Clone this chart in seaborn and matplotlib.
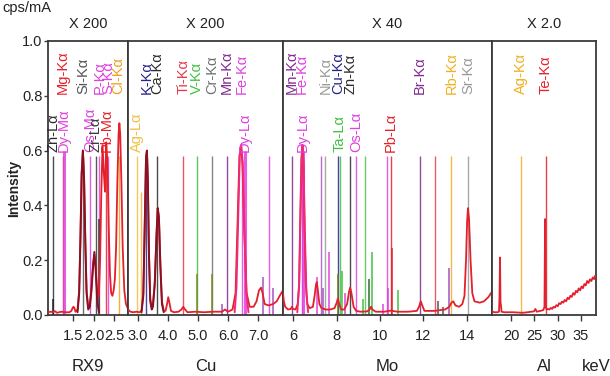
import matplotlib
matplotlib.use("Agg")
import matplotlib.pyplot as plt
from matplotlib import font_manager
import seaborn as sns

# ---- spectrum (energy in keV, intensity in cps/mA) ----
rx9_kev = [0.88, 0.95, 1.0, 1.05, 1.1, 1.2, 1.3, 1.4, 1.45, 1.48, 1.5, 1.52, 1.55, 1.6,
           1.64, 1.67, 1.70, 1.73, 1.76, 1.79, 1.82, 1.86, 1.90, 1.94, 1.98, 2.01, 2.04,
           2.08, 2.12, 2.15, 2.18, 2.21, 2.24, 2.27, 2.30, 2.33, 2.36, 2.39, 2.42, 2.45,
           2.48, 2.51, 2.54, 2.57, 2.60, 2.62, 2.64, 2.67, 2.70, 2.74, 2.78, 2.84]
rx9_int = [0.010, 0.012, 0.010, 0.014, 0.008, 0.012, 0.010, 0.010, 0.015, 0.026, 0.030,
           0.027, 0.012, 0.020, 0.09, 0.28, 0.52, 0.60, 0.50, 0.27, 0.09, 0.03, 0.04, 0.10,
           0.19, 0.22, 0.18, 0.08, 0.07, 0.20, 0.45, 0.62, 0.52, 0.45, 0.63, 0.55, 0.32,
           0.15, 0.08, 0.07, 0.09, 0.13, 0.25, 0.48, 0.66, 0.70, 0.66, 0.48, 0.25, 0.09,
           0.04, 0.02]
rx9_dark_kev = [1.60, 1.64, 1.67, 1.70, 1.73, 1.76, 1.79, 1.82, 1.86, 1.90, 1.94, 1.98,
                2.01, 2.04, 2.08, 2.12]
rx9_dark_int = [0.01, 0.08, 0.27, 0.51, 0.60, 0.49, 0.26, 0.08, 0.02, 0.03, 0.09, 0.18,
                0.23, 0.17, 0.05, 0.01]

cu_kev = [2.67, 2.75, 2.85, 2.95, 3.05, 3.12, 3.18, 3.23, 3.27, 3.30, 3.33, 3.37, 3.41,
          3.46, 3.50, 3.56, 3.62, 3.66, 3.70, 3.75, 3.80, 3.86, 3.92, 3.97, 4.01, 4.05,
          4.10, 4.2, 4.35, 4.45, 4.51, 4.57, 4.65, 4.9, 5.2, 5.5, 5.8, 5.9, 6.0, 6.15,
          6.25, 6.32, 6.38, 6.43, 6.48, 6.54, 6.62, 6.72, 6.85, 6.95, 7.03, 7.10, 7.15,
          7.22, 7.35, 7.5, 7.62, 7.72, 7.83]
cu_int = [0.020, 0.012, 0.010, 0.012, 0.010, 0.015, 0.08, 0.35, 0.58, 0.60, 0.50, 0.22,
          0.06, 0.03, 0.04, 0.12, 0.30, 0.39, 0.36, 0.18, 0.05, 0.015, 0.015, 0.04, 0.065,
          0.045, 0.015, 0.010, 0.012, 0.020, 0.030, 0.020, 0.010, 0.012, 0.010, 0.012,
          0.012, 0.020, 0.012, 0.020, 0.08, 0.35, 0.58, 0.62, 0.55, 0.30, 0.08, 0.03,
          0.03, 0.05, 0.09, 0.10, 0.08, 0.04, 0.035, 0.04, 0.05, 0.07, 0.09]
cu_dark_kev = [3.12, 3.18, 3.23, 3.27, 3.30, 3.33, 3.37, 3.41, 3.46, 3.50, 3.56, 3.62,
               3.66, 3.70, 3.75, 3.80, 3.86]
cu_dark_int = [0.01, 0.07, 0.34, 0.57, 0.60, 0.49, 0.21, 0.05, 0.02, 0.03, 0.11, 0.29,
               0.39, 0.35, 0.17, 0.04, 0.01]
cu_fe_kev = [6.22, 6.28, 6.34, 6.39, 6.44, 6.49, 6.55, 6.61, 6.68]
cu_fe_int = [0.01, 0.10, 0.36, 0.58, 0.62, 0.55, 0.30, 0.08, 0.01]

mo_kev = [5.52, 5.56, 5.62, 5.75, 5.88, 5.93, 5.98, 6.1, 6.2, 6.27, 6.33, 6.38, 6.42,
          6.46, 6.51, 6.57, 6.64, 6.75, 6.9, 6.98, 7.04, 7.08, 7.13, 7.2, 7.3, 7.5, 7.7,
          7.9, 8.0, 8.05, 8.1, 8.2, 8.35, 8.48, 8.57, 8.62, 8.68, 8.78, 8.9, 9.1, 9.4,
          9.52, 9.58, 9.65, 9.8, 10.2, 10.5, 10.8, 11.3, 11.7, 11.8, 11.88, 11.95, 12.05,
          12.5, 13.0, 13.2, 13.3, 13.38, 13.48, 13.65, 13.8, 13.9, 13.97, 14.02, 14.06,
          14.11, 14.18, 14.26, 14.36, 14.6, 14.8, 15.0, 15.17]
mo_int = [0.08, 0.05, 0.03, 0.02, 0.022, 0.03, 0.022, 0.02, 0.04, 0.12, 0.38, 0.57, 0.62,
          0.55, 0.33, 0.12, 0.04, 0.025, 0.03, 0.07, 0.11, 0.12, 0.09, 0.04, 0.025, 0.02,
          0.02, 0.025, 0.045, 0.06, 0.045, 0.02, 0.02, 0.04, 0.085, 0.10, 0.08, 0.03,
          0.015, 0.012, 0.013, 0.02, 0.03, 0.02, 0.012, 0.012, 0.016, 0.012, 0.012, 0.015,
          0.03, 0.05, 0.035, 0.015, 0.015, 0.02, 0.03, 0.045, 0.05, 0.035, 0.03, 0.04,
          0.07, 0.20, 0.34, 0.39, 0.35, 0.20, 0.08, 0.05, 0.045, 0.05, 0.065, 0.085]
mo_fe_kev = [6.18, 6.26, 6.32, 6.37, 6.42, 6.47, 6.53, 6.60, 6.68]
mo_fe_int = [0.01, 0.10, 0.36, 0.57, 0.62, 0.54, 0.30, 0.08, 0.01]

al_kev = [15.9, 16.5, 17.0, 17.4, 17.5, 17.62, 17.72, 17.82, 17.95, 18.5, 19.5, 20.5,
          21.5, 22.5, 23.5, 24.3, 24.9, 25.2, 25.5, 26.0, 26.5, 26.9, 27.15, 27.28, 27.42,
          27.6, 27.9, 28.2, 28.5, 28.8, 29.1, 29.4, 29.7, 30.0, 30.3, 30.6, 30.9, 31.2,
          31.5, 31.8, 32.1, 32.4, 32.7, 33.0, 33.3, 33.6, 33.9, 34.2, 34.5, 34.8, 35.1,
          35.4, 35.7, 36.0, 36.3, 36.6, 36.9, 37.2, 37.5, 37.8, 38.0, 38.2]
al_int = [0.012, 0.010, 0.010, 0.012, 0.06, 0.21, 0.05, 0.035, 0.012, 0.010, 0.010,
          0.010, 0.009, 0.008, 0.010, 0.012, 0.013, 0.022, 0.012, 0.014, 0.016, 0.018,
          0.03, 0.35, 0.03, 0.02, 0.022, 0.020, 0.026, 0.022, 0.030, 0.027, 0.036, 0.032,
          0.043, 0.040, 0.049, 0.045, 0.055, 0.050, 0.063, 0.058, 0.070, 0.066, 0.080,
          0.074, 0.088, 0.083, 0.097, 0.090, 0.104, 0.098, 0.113, 0.108, 0.124, 0.117,
          0.130, 0.124, 0.137, 0.131, 0.143, 0.138]

# ---- element marker lines ----
rx9_lines = ['Zn-Lα', 'Mg-Kα', 'Dy-Mα', 'Si-Kα', 'Os-Mα', 'Zr-Lα', 'P-Kα', 'Pb-Mα',
             'S-Kα', 'Cl-Kα']
rx9_line_kev = [1.01, 1.25, 1.27, 1.74, 1.91, 2.04, 2.13, 2.30, 2.35, 2.60]
cu_lines = ['Ag-Lα', 'K-Kα', 'Ca-Kα', 'Ti-Kα', 'V-Kα', 'Cr-Kα', 'Mn-Kα', 'Fe-Kα', 'Dy-Lα']
cu_line_kev = [2.96, 3.28, 3.64, 4.51, 4.98, 5.46, 5.96, 6.47, 6.55]
mo_lines = ['Mn-Kα', 'Fe-Kα', 'Dy-Lα', 'Ni-Kα', 'Cu-Kα', 'Ta-Lα', 'Zn-Kα', 'Os-Lα',
            'Pb-Lα', 'Br-Kα', 'Rb-Kα', 'Sr-Kα']
mo_line_kev = [5.93, 6.40, 6.45, 7.48, 8.05, 8.13, 8.62, 8.90, 10.50, 11.85, 13.30, 14.08]
al_lines = ['Ag-Kα', 'Te-Kα']
al_line_kev = [22.16, 27.47]

# unlabeled lines and short component sticks
cu_extra_kev = [3.10, 7.37]
cu_extra_int = [0.45, 0.58]
mo_extra_kev = [7.26, 9.31, 10.31, 12.55]
mo_extra_int = [0.58, 0.58, 0.58, 0.58]
rx9_stick_kev = [1.01, 2.12]
rx9_stick_int = [0.06, 0.35]
cu_stick_kev = [4.98, 5.46, 5.79, 7.17, 7.50]
cu_stick_int = [0.15, 0.15, 0.04, 0.14, 0.10]
mo_stick_kev = [7.08, 7.36, 7.66, 8.06, 8.23, 8.39, 9.20, 9.50, 9.62, 10.13, 10.38,
                10.54, 10.85, 12.69, 12.89, 13.20]
mo_stick_int = [0.14, 0.10, 0.23, 0.15, 0.16, 0.08, 0.06, 0.13, 0.23, 0.04, 0.10, 0.245,
                0.09, 0.05, 0.03, 0.17]

panel_names = ['RX9', 'Cu', 'Mo', 'Al']
panel_gain = ['X 200', 'X 200', 'X 40', 'X 2.0']
panel_ticks = [[1.5, 2.0, 2.5], [3.0, 4.0, 5.0, 6.0, 7.0], [6, 8, 10, 12, 14],
               [20, 25, 30, 35]]
panel_range = [(0.88, 2.83), (2.67, 7.83), (5.52, 15.17), (15.9, 38.2)]

# ---- styles ----
RED = '#e3202b'
DARK = '#8a1024'
PINK = '#f02a78'
MAG = '#e040e0'
line_color = {
    'Zn-Lα': '#2b2b2b', 'Mg-Kα': '#e8202a', 'Dy-Mα': MAG, 'Si-Kα': '#555555',
    'Os-Mα': MAG, 'Zr-Lα': '#3a3a3a', 'P-Kα': MAG, 'Pb-Mα': '#e8202a', 'S-Kα': MAG,
    'Cl-Kα': '#f0a020', 'Ag-Lα': '#f0c040', 'K-Kα': '#24248a', 'Ca-Kα': '#2b2b2b',
    'Ti-Kα': '#e83848', 'V-Kα': '#40c040', 'Cr-Kα': '#707070', 'Mn-Kα': '#802a90',
    'Fe-Kα': MAG, 'Dy-Lα': MAG, 'Ni-Kα': '#999999', 'Cu-Kα': '#24248a',
    'Zn-Kα': '#2b2b2b', 'Ta-Lα': '#40c040', 'Os-Lα': MAG, 'Pb-Lα': '#e8202a',
    'Br-Kα': '#802a90', 'Rb-Kα': '#f0b020', 'Sr-Kα': '#999999', 'Ag-Kα': '#f0b020',
    'Te-Kα': '#e8202a',
}
lower_row = {'Zn-Lα', 'Dy-Mα', 'Os-Mα', 'Zr-Lα', 'Pb-Mα', 'Ag-Lα', 'Dy-Lα', 'Ta-Lα',
             'Os-Lα', 'Pb-Lα'}
cu_extra_color = ['#f0b040', MAG]
mo_extra_color = ['#b050c0', '#50c050', MAG, '#e8404a']
rx9_stick_color = ['#222222', '#333333']
cu_stick_color = ['#7a8a20', '#7a8a20', '#a050c0', '#a050c0', '#a050c0']
mo_stick_color = [MAG, '#a050c0', MAG, '#6a7a20', '#40c040', MAG, '#40c040', '#2a6a2a',
                  '#40c040', MAG, MAG, '#e8202a', '#40c040', '#555555', '#555555',
                  '#a050c0']

sns.set_style("ticks")
names = {f.name for f in font_manager.fontManager.ttflist}
narrow = 'Liberation Sans Narrow' if 'Liberation Sans Narrow' in names else 'Liberation Sans'
plt.rcParams['font.family'] = [narrow, 'DejaVu Sans']
FRAME = '#3a3a3a'

fig = plt.figure(figsize=(6.1, 3.76), dpi=100)
gs = fig.add_gridspec(1, 4, width_ratios=[80, 155, 209, 104], wspace=0,
                      left=48 / 610, right=596 / 610, bottom=1 - 315 / 376, top=1 - 41 / 376)
axes = [fig.add_subplot(gs[0, i]) for i in range(4)]

spectra = [(rx9_kev, rx9_int), (cu_kev, cu_int), (mo_kev, mo_int), (al_kev, al_int)]
overlays = [[(rx9_dark_kev, rx9_dark_int, DARK)],
            [(cu_dark_kev, cu_dark_int, DARK), (cu_fe_kev, cu_fe_int, PINK)],
            [(mo_fe_kev, mo_fe_int, PINK)],
            []]
labels = [(rx9_lines, rx9_line_kev), (cu_lines, cu_line_kev), (mo_lines, mo_line_kev),
          (al_lines, al_line_kev)]
extras = [([], [], []), (cu_extra_kev, cu_extra_int, cu_extra_color),
          (mo_extra_kev, mo_extra_int, mo_extra_color), ([], [], [])]
sticks = [(rx9_stick_kev, rx9_stick_int, rx9_stick_color),
          (cu_stick_kev, cu_stick_int, cu_stick_color),
          (mo_stick_kev, mo_stick_int, mo_stick_color), ([], [], [])]

for i, ax in enumerate(axes):
    # marker lines with their labels
    for name, e in zip(*labels[i]):
        c = line_color[name]
        thick = name.startswith('Dy')
        ax.vlines(e, 0, 0.58 if not thick else 0.60, color=c, lw=2.2 if thick else 1.0,
                  alpha=0.85, zorder=1)
        ax.text(e, 0.595 if name in lower_row else 0.805, name, rotation=90, ha='center',
                va='bottom', color=c, fontsize=10.5, family='Liberation Sans', zorder=5)
    for e, h, c in zip(*extras[i]):
        ax.vlines(e, 0, h, color=c, lw=1.0, alpha=0.85, zorder=1)
    for e, h, c in zip(*sticks[i]):
        ax.vlines(e, 0, h, color=c, lw=1.2, alpha=0.9, zorder=2)

    x, y = spectra[i]
    sns.lineplot(x=x, y=y, ax=ax, color=RED, lw=1.3, zorder=3)
    for ox, oy, oc in overlays[i]:
        sns.lineplot(x=ox, y=oy, ax=ax, color=oc, lw=1.4, zorder=4)

    ax.set_xlim(*panel_range[i])
    ax.set_ylim(0, 1.0)
    ax.set_xticks(panel_ticks[i])
    if i == 2:
        ax.set_xticklabels([str(t) for t in panel_ticks[i]])
    else:
        ax.set_xticklabels([f'{t:.1f}' if i < 2 else str(t) for t in panel_ticks[i]])
    ax.tick_params(axis='x', length=4, width=1, color=FRAME, pad=6, labelsize=10.5,
                   labelcolor='#222222')
    ax.set_xlabel('')
    ax.set_ylabel('')
    for sp in ax.spines.values():
        sp.set_color(FRAME)
        sp.set_linewidth(1.3)
    if i == 0:
        ax.set_yticks([0.0, 0.2, 0.4, 0.6, 0.8, 1.0])
        ax.set_yticklabels(['0.0', '0.2', '0.4', '0.6', '0.8', '1.0'])
        ax.tick_params(axis='y', length=3, width=1, color=FRAME, pad=1, labelsize=10.5,
                       labelcolor='#222222')
    else:
        ax.tick_params(axis='y', left=False, labelleft=False)

    ax.text(0.5, 1.062, panel_gain[i], transform=ax.transAxes, ha='center', va='center',
            fontsize=10.5, color='#222222')
    ax.text(0.5, -0.189, panel_names[i], transform=ax.transAxes, ha='center', va='center',
            fontsize=12, color='#222222')

axes[3].text(1.0, -0.189, 'keV', transform=axes[3].transAxes, ha='center', va='center',
             fontsize=12, color='#222222')
fig.text(2 / 610, 1 - 8 / 376, 'cps/mA', ha='left', va='center', fontsize=10.5,
         color='#222222')
fig.text(14 / 610, 1 - 188 / 376, 'Intensity', rotation=90, ha='center', va='center',
         fontsize=10, fontweight='bold', family='Liberation Sans', color='#222222')

fig.savefig('out.png', dpi=100)
